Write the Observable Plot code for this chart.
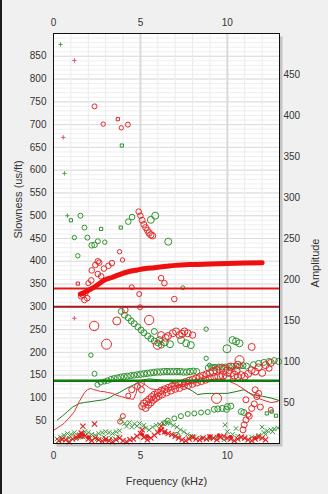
<!DOCTYPE html>
<html><head><meta charset="utf-8">
<script src="https://cdn.jsdelivr.net/npm/d3@7"></script>
<script src="https://cdn.jsdelivr.net/npm/@observablehq/plot@0.6"></script>
<style>
html,body{margin:0;padding:0;background:#f0f0f0;}
#wrap{position:relative;width:328px;height:494px;overflow:hidden;background:#f0f0f0;}
#wrap svg{display:block;}
#edge{position:absolute;left:0;top:0;width:2px;height:494px;background:#1c1c1c;}
</style></head><body><div id="wrap"><div id="edge"></div></div>
<script>
// ---- axes / ticks ----
const freqTicks = [0, 5, 10];
const slownessTicks = [50,100,150,200,250,300,350,400,450,500,550,600,650,700,750,800,850];
const amplitudeTicks = [50,100,150,200,250,300,350,400,450];
const slownessMax = 900, amplitudeMax = 500;

// ---- reference lines (slowness) ----
const redRef = [340];
const darkRedRef = [300];
const greenRef = [138];

// ---- thick red dispersion curve [freq, slowness] ----
const redCurve = [[1.55,328],[1.8,332],[2.0,336],[2.3,342],[2.6,350],[2.9,358],[3.4,365],[3.87,372],[4.3,377],[4.83,381],[5.3,384],[5.79,386],[6.5,389],[7.0,391],[8.0,393],[9.0,394],[10.0,395],[11.0,396],[12.0,397]];

// ---- thin lines [freq, slowness] ----
const redThin = [[0.04,30],[0.3,36],[0.6,44],[0.9,56],[1.2,70],[1.48,92],[1.77,111],[1.95,118],[2.15,121],[2.3,118],[2.5,117],[2.7,114],[2.9,114],[3.1,112],[3.4,110],[3.6,106],[3.9,103],[4.25,99],[4.6,97],[4.75,110],[4.85,128],[5.0,135],[5.3,128],[5.6,120],[6.0,118],[6.5,122],[7.0,126],[7.5,130],[8.0,132],[8.5,136],[9.0,140],[9.5,142],[10.0,138],[10.5,130],[11.0,118],[11.5,104],[12.0,96],[12.5,90],[12.9,92]];
const greenThin = [[0.23,52],[0.5,60],[0.8,70],[1.1,80],[1.48,88],[1.8,90],[2.15,92],[2.5,94],[2.9,96],[3.2,100],[3.5,107],[3.8,112],[4.06,118],[4.35,124],[4.64,129],[4.9,136],[5.2,140],[5.5,142],[6.0,140],[6.5,138],[7.0,132],[7.5,125],[8.0,115],[8.3,107],[8.55,109],[9.0,110],[9.5,110],[10.0,110],[10.5,114],[10.96,118],[11.2,112],[11.5,107],[12.0,104],[12.5,100],[13.0,94]];

// ---- circles [freq, slowness, amp] ----
const redCircles = [
[2.36,740,2.5],[2.86,701,2.2],[3.9,693,2.2],[4.28,700,2.5],
[4.9,509,2.8],[5.0,500,2.8],[5.1,490,3],[5.2,481,3],[5.3,474,3],[5.4,468,3],[5.5,462,3.2],[5.6,458,3.2],[5.7,456,3.2],
[3.8,421,2.2],[3.97,403,2.2],
[2.55,400,2.8],[2.41,392,2.8],[2.2,380,2.8],[2.55,372,2.8],[2.74,367,2.8],[2.17,358,2.8],[3.16,390,2.8],[3.36,396,2.8],[2.63,397,2.8],[2.9,384,2.8],[2.0,352,2.5],
[1.59,323,2.8],[1.78,315,2.8],[1.94,319,2.8],[1.69,326,2.8],[1.85,330,2.5],
[4.5,343,2.5],[4.93,328,2.5],[4.98,299,2.5],[4.12,293,3],
[2.34,258,4.7],[3.05,218,5],[3.64,269,4],[5.5,271,4.7],[5.98,216,4.2],
[6.19,363,2.8],[6.38,352,2.8],[6.95,317,2.8],
[6.19,238,3.5],[6.45,232,3.5],[6.59,236,3.5],[6.86,242,3.5],[7.05,246,3.5],[7.25,238,3.5],[7.4,241,3.5],[7.53,246,3.5],[7.72,242,3.5],[8.0,238,3.2],
[11.4,212,3.5],[10.7,183,4.5],[10.6,173,3.5],
[4.5,118,3],[4.83,125,3],[5.06,118,3],[5.06,132,3],[4.3,105,2.5],
[5.1,82,3.5],[5.2,88,3.5],[5.3,78,3.5],[5.35,92,3.5],[5.45,85,3.5],[5.5,97,3.5],[5.6,90,3.5],[5.65,102,3.5],[5.75,96,3.5],[5.8,107,3.5],[5.9,100,3.5],[6.0,111,3.5],[6.05,104,3.5],[6.2,116,3.5],[6.25,108,3.5],[6.4,119,3.5],[6.5,112,3.5],[6.6,122,3.5],[6.75,116,3.5],[6.8,125,3.5],[7.0,120,3.5],[7.0,128,3.5],[7.2,130,3.5],[7.25,122,3.5],[7.4,132,3.5],[7.5,126,3.5],[7.6,135,3.5],[7.75,128,3.5],[7.8,138,3.5],[8.0,131,3.5],[8.0,140,3.5],[8.2,143,3.5],[8.25,134,3.5],[8.4,146,3.5],[8.5,137,3.5],[8.6,149,3.5],[8.75,140,3.5],[8.8,152,3.5],[9.0,143,3.5],[9.0,155,3.5],[9.2,158,4],[9.25,146,3.5],[9.4,160,4],[9.5,148,4],[9.6,163,4.5],[9.75,150,4],[9.8,162,4.5],[10.0,158,4.5],[10.0,146,4],[10.2,156,4.5],[10.2,168,4],[10.4,150,4],[10.5,160,4],[10.6,146,3.5],[10.8,150,3.5],[11.0,147,3.5],[11.2,153,3.5],[11.4,161,3.5],[11.6,158,3.5],[11.8,167,3.5],[12.0,155,3.5],[12.2,172,3.5],[12.5,177,3.5],[12.4,165,3],
[9.38,99,5],[11.6,118,3],[11.8,110,3],[11.07,96,3],[11.55,87,3],[11.7,103,3],[11.26,60,3],[11.07,52,3],[10.97,41,3],[10.9,30,3],[11.2,63,2.5],[12.5,74,2.5],[11.4,77,3],[11.9,80,3],
[3.99,60,2.5],[3.83,48,2.5]
];
const greenCircles = [
[1.55,500,2.5],[1.78,474,2.5],[1.2,452,2.2],[1.95,452,2.5],[2.2,435,2.8],[2.36,436,2.8],[2.55,444,2.5],[2.95,442,2.2],[4.3,487,2.8],[4.52,497,2.8],[5.6,491,3.5],[5.85,500,3.5],[6.6,443,3.5],[1.4,412,2.2],
[3.9,290,3],[4.08,282,3],[4.3,276,3],[4.47,269,3],[4.64,263,3],[4.85,256,3],[5.04,249,3],[5.2,243,3],[5.42,236,3],[5.6,230,3],[5.8,225,3],[6.0,221,3],[6.2,216,3],[5.8,246,3],[6.1,227,3.5],[6.4,222,3.5],[6.7,218,3.5],[7.34,227,3.5],[7.63,220,3.5],[7.9,216,3.5],
[7.44,342,2],[8.78,251,2.2],[10.3,227,3.5],[10.5,224,3.5],[10.7,220,3.5],[9.98,208,4],[8.78,187,2.2],[8.97,172,2],[9.25,169,2],[2.15,194,2.2],[2.36,153,2.5],
[2.53,129,2.5],[2.72,134,2.5],[2.92,136,2.5],[3.1,138,2.8],[3.3,141,2.8],[3.49,143,2.8],[3.68,144,3],[3.87,146,3],[4.06,147,3],[4.25,148,3],[4.44,149,3],[4.63,150,3],[4.82,151,3],[5.01,152,3.2],[5.2,153,3.2],[5.39,154,3.2],[5.58,155,3.2],[5.77,156,3.2],[5.96,157,3.2],[6.15,157,3.2],[6.34,158,3.2],[6.53,158,3.2],[6.72,158,3.2],[6.91,158,3.2],[7.1,158,3.2],[7.29,158,3.2],[7.48,157,3.2],[7.67,157,3.2],[7.86,158,3.2],[8.05,159,3],[8.24,158,3],
[8.9,166,3],[9.1,167,3],[9.3,167,3],[9.5,168,3],[9.7,168,3],[9.9,168,3],[10.1,169,3],[10.3,169,3],[10.5,170,3],[10.7,170,3],[10.9,171,3],[11.1,170,3],[11.5,173,3],[11.8,176,3],[12.1,178,3],[12.4,180,3],[12.7,182,3],[12.95,180,3],
[6.4,45,2.5],[6.57,50,2.5],[6.95,55,2.5],[7.33,60,2.5],[7.72,65,2.5],[8.1,66,2.5],[8.49,68,2.5],[8.87,69,2.5],[9.25,75,3],[9.45,76,3],[9.7,77,3],[9.95,75,3],[10.0,81,3],[10.2,82,3],[10.8,70,3],[10.95,68,3],[7.1,19,2.5]
];

// ---- small markers [freq, slowness] ----
const greenSquares = [[1.0,490],[2.74,471],[3.87,474],[3.93,654],[12.27,66],[12.55,70],[12.8,61]];
const redSquares = [[3.7,712],[1.4,351]];
const greenPlus = [[0.4,876],[0.63,593],[0.8,500]];
const redPlus = [[1.2,841],[0.56,672],[1.2,275]];
const greenCross = [[0.2,10],[0.4,14],[0.6,18],[0.8,22],[1.0,20],[1.2,24],[1.4,18],[1.6,22],[1.8,26],[2.0,24],[2.2,20],[2.4,18],[2.6,22],[2.8,24],[3.0,26],[3.2,24],[3.4,22],[3.6,26],[3.8,28],[0.5,8],[0.9,12],[1.3,10],[1.7,14],[2.1,12],[2.5,10],[2.9,14],[3.3,12],[3.7,15],
[3.9,52],[4.1,44],[4.37,46],[4.66,43],[4.95,44],[5.2,40],[4.2,38],[4.5,36],[4.8,38],
[5.3,34],[5.5,30],[5.7,36],[5.9,40],[6.1,42],[6.3,44],[6.5,46],[6.7,44],[6.9,40],[7.1,36],[7.3,30],[7.5,26],[7.7,20],[7.9,16],[8.1,14],
[8.5,12],[9.0,10],[9.4,14],[9.8,8],[9.87,41],[10.5,33],[10.0,26],[10.3,20],[10.6,16],[11.0,12],[11.4,14],[11.8,18],[12.1,24],[12.3,28],[12.5,30],[12.7,32],[12.9,34],[12.2,20],[12.6,26],[12.0,36]];
const redCross = [[0.3,6],[0.5,10],[0.7,8],[0.9,4],[1.1,10],[1.3,14],[1.5,18],[1.6,23],[1.69,38],[1.8,16],[2.0,10],[2.2,6],[2.36,43],[2.4,12],[2.6,8],[2.8,5],[3.0,10],[3.2,6],[3.4,4],[3.6,8],[3.8,12],[4.0,6],[4.2,4],[4.4,8],[4.6,10],[4.8,16],[5.0,22],[5.1,30],[5.2,14],[5.4,8],[5.6,12],[5.8,18],[6.0,24],[6.2,30],[6.4,26],[6.6,22],[6.8,20],[7.0,16],[7.2,12],[7.4,8],[7.6,6],[7.8,10],[8.0,14],[8.2,10],[8.4,8],[8.6,12],[8.8,10],[9.0,14],[9.2,12],[9.4,8],[9.6,14],[9.8,16],[10.0,12],[10.2,10],[10.4,6],[10.6,10],[10.8,14],[11.0,12],[11.2,8],[11.4,6],[11.6,10],[11.8,14],[12.0,12],[12.2,8],[6.2,38]];
const redDots = [[1.5,15],[1.7,20],[2.0,14],[3.0,8],[5.1,20],[5.4,16],[6.1,28],[9.0,16],[9.5,18],[10.2,14],[11.6,12],[1.6,22],[6.4,24]];

// ---- build tables ----
const P = a => a.map(([f, s]) => ({f, s}));
const C = a => a.map(([f, s, amp]) => ({f, s, amp}));
const k = slownessMax / amplitudeMax;
const minorY = d3.range(10, slownessMax, 10);
const minorX = d3.range(1, 13, 1);

const chart = Plot.plot({
  width: 328, height: 494,
  marginTop: 33, marginRight: 49, marginBottom: 51, marginLeft: 53,
  style: {background: "transparent", fontFamily: "'Liberation Sans', Arial, sans-serif", fontSize: "10px", color: "#333", overflow: "visible"},
  x: {domain: [0, 13]},
  y: {domain: [0, slownessMax]},
  r: {type: "linear", domain: [0, 10], range: [0, 10]},
  marks: [
    Plot.frame({fill: "#c4c4c4", dx: 3, dy: 3}),
    Plot.frame({fill: "white"}),
    Plot.ruleY(minorY, {stroke: "#efefef"}),
    Plot.ruleY(slownessTicks, {stroke: "#dcdcdc"}),
    Plot.ruleX(minorX, {stroke: "#ebebeb"}),
    Plot.ruleX([5, 10], {stroke: "#dadada", strokeWidth: 2}),
    Plot.line(P(greenThin), {x: "f", y: "s", stroke: "#1f7f1f", strokeWidth: 1}),
    Plot.line(P(redThin), {x: "f", y: "s", stroke: "#e03434", strokeWidth: 1}),
    Plot.dot(C(greenCircles), {x: "f", y: "s", r: "amp", stroke: "#2f922f", strokeWidth: 1, fill: "none"}),
    Plot.dot(C(redCircles), {x: "f", y: "s", r: "amp", stroke: "#e42a2a", strokeWidth: 1, fill: "none"}),
    Plot.dot(P(greenSquares), {x: "f", y: "s", symbol: "square", r: 1.8, stroke: "#2f922f", strokeWidth: 1, fill: "none"}),
    Plot.dot(P(redSquares), {x: "f", y: "s", symbol: "square", r: 1.8, stroke: "#d42a2a", strokeWidth: 1, fill: "none"}),
    Plot.dot(P(greenPlus), {x: "f", y: "s", symbol: "plus", r: 1.5, stroke: "#4aa04a", strokeWidth: 1}),
    Plot.dot(P(redPlus), {x: "f", y: "s", symbol: "plus", r: 1.5, stroke: "#e0507a", strokeWidth: 1}),
    Plot.dot(P(greenCross), {x: "f", y: "s", symbol: "times", r: 2.2, stroke: "#3a9a3a", strokeWidth: 1}),
    Plot.dot(P(redCross), {x: "f", y: "s", symbol: "times", r: 2.5, stroke: "#e41e1e", strokeWidth: 1.1}),
    Plot.dot(P(redDots), {x: "f", y: "s", r: 2, fill: "#e41e1e"}),
    Plot.ruleY(darkRedRef, {stroke: "#a3191c", strokeWidth: 2}),
    Plot.ruleY(redRef, {stroke: "#e81414", strokeWidth: 2}),
    Plot.ruleY(greenRef, {stroke: "#0d7d0d", strokeWidth: 2.5}),
    Plot.line(redCurve, {x: d => d[0], y: d => d[1], stroke: "#ee1010", strokeWidth: 5, curve: "monotone-x", strokeLinecap: "round"}),
    Plot.frame({stroke: "#111"}),
    Plot.axisX({anchor: "top", ticks: freqTicks, tickSize: 0, tickPadding: 8, label: null}),
    Plot.axisX({anchor: "bottom", ticks: freqTicks, tickSize: 0, tickPadding: 8, label: null}),
    Plot.axisY({anchor: "left", ticks: slownessTicks, tickSize: 0, tickPadding: 7, label: null}),
    Plot.axisY({anchor: "right", ticks: amplitudeTicks.map(a => a * k), tickFormat: d => String(Math.round(d / k)), tickSize: 0, tickPadding: 4, label: null}),
    Plot.text(["Slowness (us/ft)"], {frameAnchor: "left", dx: -35, rotate: -90, fontSize: 11, fill: "#333"}),
    Plot.text(["Amplitude"], {frameAnchor: "right", dx: 36, rotate: -90, fontSize: 11, fill: "#333"}),
    Plot.text(["Frequency (kHz)"], {frameAnchor: "bottom", dy: 41, fontSize: 11, fill: "#333"})
  ]
});
document.getElementById("wrap").prepend(chart);
</script></body></html>
